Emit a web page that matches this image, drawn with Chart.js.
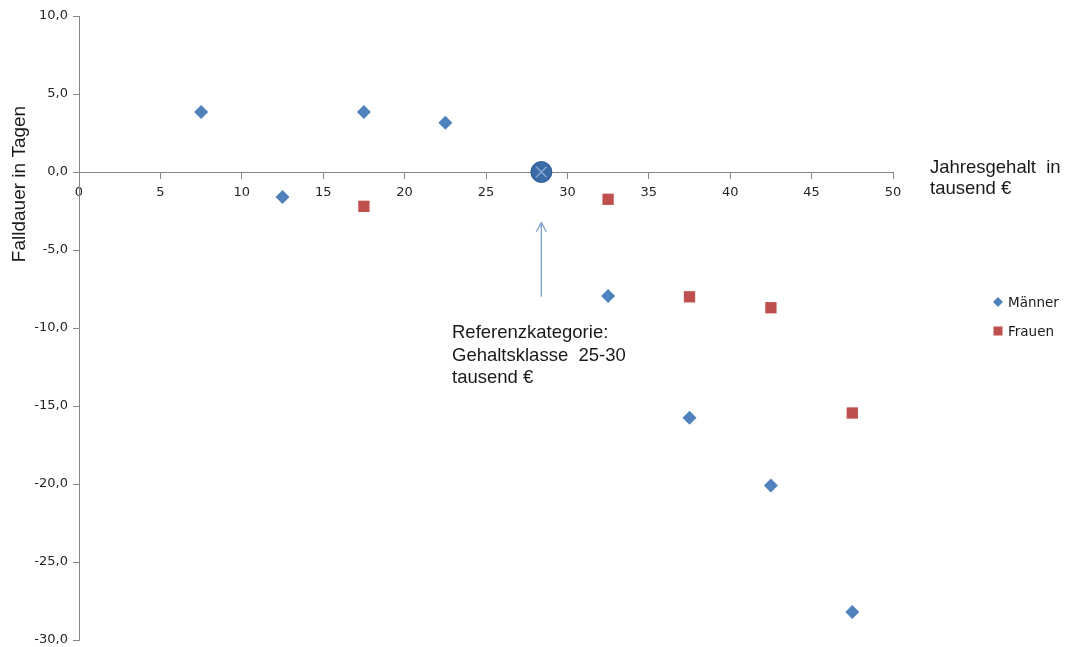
<!DOCTYPE html>
<html>
<head>
<meta charset="utf-8">
<script src="https://cdn.jsdelivr.net/npm/chart.js@4/dist/chart.umd.min.js"></script>
<style>
html,body{margin:0;padding:0;background:#fff;}
#wrap{width:1070px;height:647px;}
</style>
</head>
<body>
<div id="wrap"><canvas id="c" width="1070" height="647"></canvas></div>
<script>
// ---- data ----
const menX = [7.5, 12.5, 17.5, 22.5, 32.5, 37.5, 42.5, 47.5];
const menY = [3.85, -1.6, 3.85, 3.15, -7.95, -15.75, -20.1, -28.2];
const womenX = [17.5, 32.5, 37.5, 42.5, 47.5];
const womenY = [-2.2, -1.75, -8.0, -8.7, -15.45];
const refX = [28.4];
const refY = [0];
const seriesLabels = ['Männer', 'Frauen'];
const xTicks = [0, 5, 10, 15, 20, 25, 30, 35, 40, 45, 50];
const yTicks = [10, 5, 0, -5, -10, -15, -20, -25, -30];
const xTitle = ['Jahresgehalt  in', 'tausend €'];
const yTitle = 'Falldauer in Tagen';
const noteLines = ['Referenzkategorie:', 'Gehaltsklasse  25-30', 'tausend €'];
const arrowFrom = {x: 28.4, y: -8.0};
const arrowTo = {x: 28.4, y: -3.25};

const pts = (xs, ys) => xs.map((x, i) => ({x: x, y: ys[i]}));
const menColor = '#4F81BD';
const womenColor = '#C0504D';
const tickFont = {family: '"DejaVu Sans", Verdana, sans-serif', size: 13};

const decor = {
  id: 'decor',
  afterDraw(chart) {
    const ctx = chart.ctx;
    const xs = chart.scales.x, ys = chart.scales.y;
    ctx.save();
    // arrow
    const ax = xs.getPixelForValue(arrowFrom.x);
    const ay1 = ys.getPixelForValue(arrowFrom.y);
    const ay2 = ys.getPixelForValue(arrowTo.y);
    ctx.strokeStyle = '#7F9FCB';
    ctx.lineWidth = 1.3;
    ctx.beginPath();
    ctx.moveTo(ax, ay1); ctx.lineTo(ax, ay2);
    ctx.moveTo(ax - 5, ay2 + 9); ctx.lineTo(ax, ay2); ctx.lineTo(ax + 5, ay2 + 9);
    ctx.stroke();
    // note text
    ctx.fillStyle = '#1a1a1a';
    ctx.font = '18.5px "Liberation Sans", Arial, sans-serif';
    ctx.textAlign = 'left';
    ctx.textBaseline = 'alphabetic';
    noteLines.forEach((t, i) => ctx.fillText(t, 452, 338 + i * 22.5));
    // x title
    xTitle.forEach((t, i) => ctx.fillText(t, 930, 173 + i * 21));
    // y title
    ctx.save();
    ctx.translate(25, 184);
    ctx.rotate(-Math.PI / 2);
    ctx.textAlign = 'center';
    ctx.font = '19px "Liberation Sans", Arial, sans-serif';
    ctx.fillText(yTitle, 0, 0);
    ctx.restore();
    // legend
    ctx.font = '13.5px "DejaVu Sans", Verdana, sans-serif';
    ctx.textBaseline = 'middle';
    ctx.fillStyle = menColor;
    ctx.beginPath();
    ctx.moveTo(998, 297); ctx.lineTo(1003, 302); ctx.lineTo(998, 307); ctx.lineTo(993, 302); ctx.closePath();
    ctx.fill();
    ctx.fillStyle = womenColor;
    ctx.fillRect(993.5, 326.5, 9, 9);
    ctx.fillStyle = '#1a1a1a';
    ctx.fillText(seriesLabels[0], 1008, 303);
    ctx.fillText(seriesLabels[1], 1008, 332);
    ctx.restore();
  }
};

new Chart(document.getElementById('c'), {
  type: 'scatter',
  data: {
    datasets: [
      {label: seriesLabels[0], data: pts(menX, menY), pointStyle: 'rectRot', pointRadius: 7, pointHoverRadius: 7,
       backgroundColor: menColor, borderColor: menColor, borderWidth: 0, order: 2},
      {label: seriesLabels[1], data: pts(womenX, womenY), pointStyle: 'rect', pointRadius: 8, pointHoverRadius: 8,
       backgroundColor: womenColor, borderColor: womenColor, borderWidth: 0, order: 2},
      {label: 'ref', data: pts(refX, refY), pointStyle: 'circle', pointRadius: 10.5, pointHoverRadius: 10.5,
       backgroundColor: '#3C6AA6', borderColor: '#2F5A95', borderWidth: 1, order: 1},
      {label: 'refx', data: pts(refX, refY), pointStyle: 'crossRot', pointRadius: 7.5, pointHoverRadius: 7.5,
       backgroundColor: '#86A6D4', borderColor: '#86A6D4', borderWidth: 1.5, order: 0}
    ]
  },
  options: {
    responsive: false,
    animation: false,
    events: [],
    layout: {autoPadding: false, padding: {left: 0, top: 16, right: 177, bottom: 7}},
    plugins: {legend: {display: false}, tooltip: {enabled: false}},
    scales: {
      x: {
        type: 'linear', min: 0, max: 50,
        position: {y: 0},
        afterBuildTicks: s => { s.ticks = xTicks.map(v => ({value: v})); },
        afterFit: s => { s.paddingLeft = 0; s.paddingRight = 0; s.paddingTop = 0; s.paddingBottom = 0; },
        ticks: {color: '#262626', font: tickFont, padding: 7, maxRotation: 0,
                callback: v => String(v)},
        grid: {drawOnChartArea: false, drawTicks: true, tickLength: 6, color: '#868686', lineWidth: 1},
        border: {display: true, color: '#868686', width: 1}
      },
      y: {
        type: 'linear', min: -30, max: 10,
        position: 'left',
        afterBuildTicks: s => { s.ticks = yTicks.map(v => ({value: v})); },
        afterFit: s => { s.width = 79; s.paddingTop = 0; s.paddingBottom = 0; s.paddingLeft = 0; s.paddingRight = 0; },
        ticks: {color: '#262626', font: tickFont, padding: 5,
                callback: v => v.toFixed(1).replace('.', ',')},
        grid: {drawOnChartArea: false, drawTicks: true, tickLength: 6, color: '#868686', lineWidth: 1},
        border: {display: true, color: '#868686', width: 1}
      }
    }
  },
  plugins: [decor]
});
</script>
</body>
</html>
